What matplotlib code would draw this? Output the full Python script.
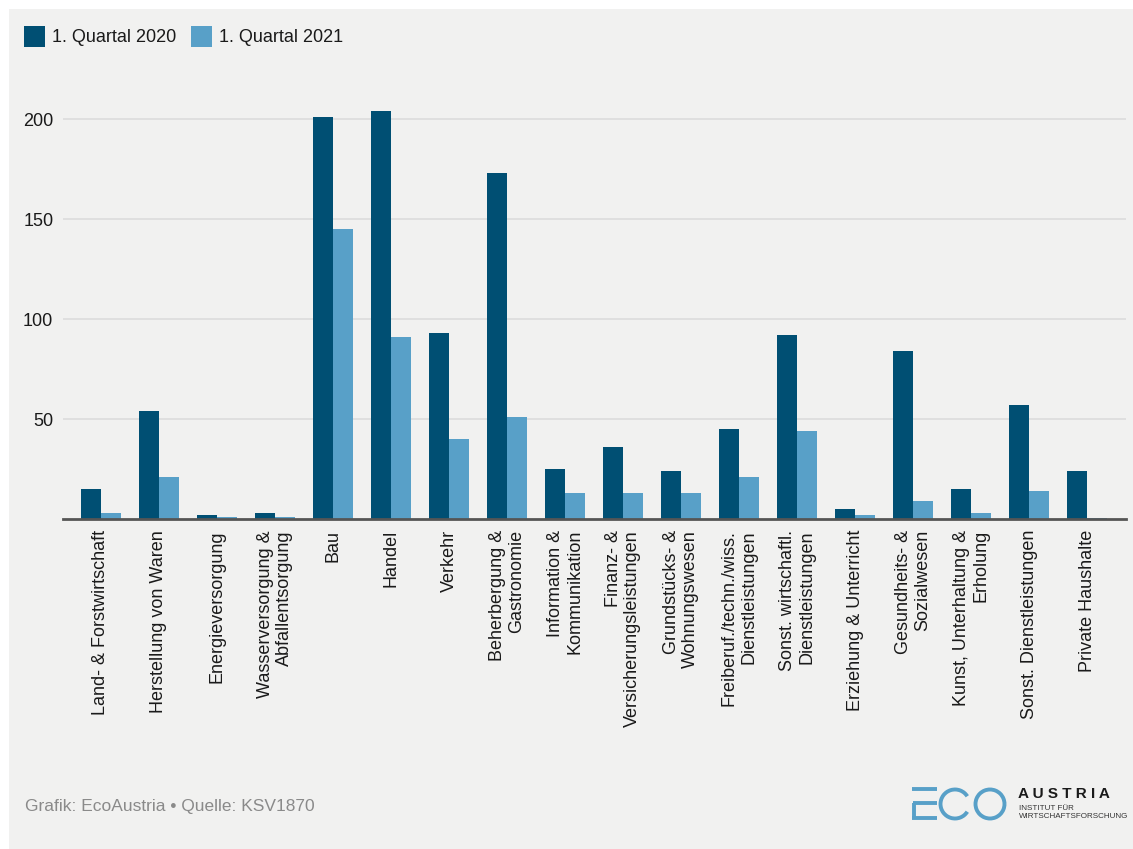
import matplotlib
matplotlib.use("Agg")
import matplotlib.pyplot as plt
import numpy as np
from matplotlib.patches import Rectangle, Arc
from matplotlib.lines import Line2D

plt.rcParams['font.family'] = ['Liberation Sans', 'DejaVu Sans']

categories = [
    "Land- & Forstwirtschaft",
    "Herstellung von Waren",
    "Energieversorgung",
    "Wasserversorgung &\nAbfallentsorgung",
    "Bau",
    "Handel",
    "Verkehr",
    "Beherbergung &\nGastronomie",
    "Information &\nKommunikation",
    "Finanz- &\nVersicherungsleistungen",
    "Grundstücks- &\nWohnungswesen",
    "Freiberuf./techn./wiss.\nDienstleistungen",
    "Sonst. wirtschaftl.\nDienstleistungen",
    "Erziehung & Unterricht",
    "Gesundheits- &\nSozialwesen",
    "Kunst, Unterhaltung &\nErholung",
    "Sonst. Dienstleistungen",
    "Private Haushalte",
]
q1_2020 = [15, 54, 2, 3, 201, 204, 93, 173, 25, 36, 24, 45, 92, 5, 84, 15, 57, 24]
q1_2021 = [3, 21, 1, 1, 145, 91, 40, 51, 13, 13, 13, 21, 44, 2, 9, 3, 14, 0.5]
series_names = ["1. Quartal 2020", "1. Quartal 2021"]
yticks = [50, 100, 150, 200]

c_dark = "#004f73"
c_light = "#58a0c8"
bg = "#f1f1f0"

W, H = 1133, 849
fig = plt.figure(figsize=(W / 100, H / 100), dpi=100, facecolor="white")

# gray panel
fig.patches.append(Rectangle((9 / W, 0), 1 - 9 / W, 1 - 9 / H, transform=fig.transFigure,
                             facecolor=bg, edgecolor="none", zorder=-10))

ax = fig.add_axes([63 / W, (H - 519) / H, 1063 / W, 430 / H])
ax.set_facecolor("none")
x = np.arange(len(categories))
bw = 0.345
ax.bar(x - bw / 2, q1_2020, width=bw, color=c_dark, zorder=3)
ax.bar(x + bw / 2, q1_2021, width=bw, color=c_light, zorder=3)
ax.set_xlim(-0.655, len(categories) - 1 + 0.672)
ax.set_ylim(0, 215)
ax.set_yticks(yticks)
ax.set_yticklabels([str(v) for v in yticks])
ax.grid(axis="y", color="#dcdcdc", linewidth=1.2, zorder=0)
for s in ["top", "right", "left"]:
    ax.spines[s].set_visible(False)
ax.spines["bottom"].set_color("#555555")
ax.spines["bottom"].set_linewidth(2)
ax.spines["bottom"].set_zorder(4)
ax.set_xticks(x)
ax.set_xticklabels(categories, rotation=90, ha="center", va="top",
                   multialignment="right", fontsize=13, color="#1a1a1a")
ax.tick_params(axis="x", length=0, pad=8)
ax.tick_params(axis="y", length=0, pad=7, labelsize=13, labelcolor="#1a1a1a")

# legend
def fx(px):
    return px / W

def fy(py):
    return 1 - py / H

for (x0, name, col) in [(24, series_names[0], c_dark), (191, series_names[1], c_light)]:
    fig.patches.append(Rectangle((fx(x0), fy(47)), 21 / W, 21 / H, transform=fig.transFigure,
                                 facecolor=col, edgecolor="none"))
    fig.text(fx(x0 + 28), fy(37), name, fontsize=13, va="center", ha="left", color="#1a1a1a")

# footer
fig.text(fx(25), fy(806), "Grafik: EcoAustria • Quelle: KSV1870", fontsize=12.5,
         color="#8a8a8a", va="center", ha="left")

# logo
lc = "#58a0c8"
lw = 2.8
def line(x0, y0, x1, y1):
    fig.add_artist(Line2D([fx(x0), fx(x1)], [fy(y0), fy(y1)], transform=fig.transFigure,
                          color=lc, linewidth=lw, solid_capstyle="butt"))
line(912, 789, 937, 789)
line(913, 803, 937, 803)
line(912, 818, 937, 818)
line(913.5, 803, 913.5, 818)
r = 14.5
fig.add_artist(Arc((fx(955), fy(804)), 2 * r / W, 2 * r / H, theta1=40, theta2=320,
                   transform=fig.transFigure, color=lc, linewidth=lw))
fig.add_artist(Arc((fx(990), fy(804)), 2 * r / W, 2 * r / H, theta1=0, theta2=360,
                   transform=fig.transFigure, color=lc, linewidth=lw))
fig.text(fx(1018), fy(794), "A U S T R I A", fontsize=11, fontweight="bold",
         color="#1a1a1a", va="center", ha="left")
fig.text(fx(1019), fy(808), "INSTITUT FÜR", fontsize=5.8, color="#333333",
         va="center", ha="left")
fig.text(fx(1019), fy(816.5), "WIRTSCHAFTSFORSCHUNG", fontsize=5.8, color="#333333",
         va="center", ha="left")

fig.savefig("out.png", dpi=100, facecolor="white")
